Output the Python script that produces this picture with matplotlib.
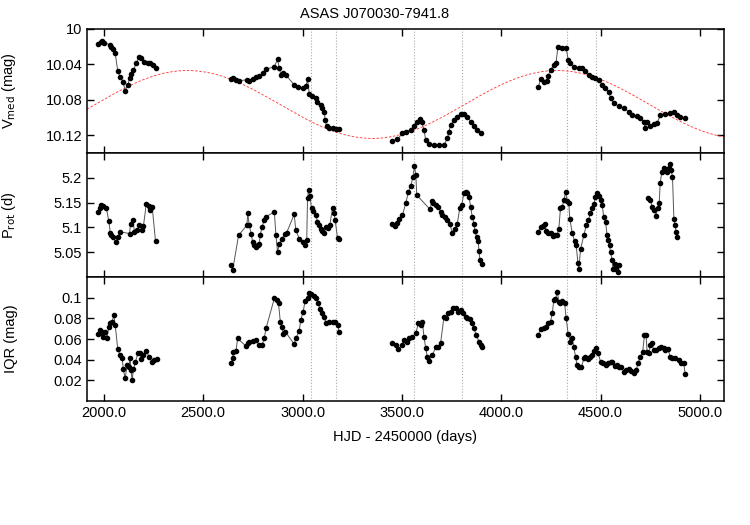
import numpy as np
import matplotlib
matplotlib.use("Agg")
import matplotlib.pyplot as plt

plt.rcParams['font.family'] = ['Liberation Sans', 'DejaVu Sans']
plt.rcParams['font.size'] = 10.5

# ---- V_med (mag) ----
v_t = [[1970, 1983, 1992, 2003, 2029, 2037, 2045, 2057, 2070, 2082, 2096, 2107, 2121, 2129,
        2137, 2149, 2163, 2176, 2188, 2204, 2221, 2233, 2246, 2263],
       [2640, 2652, 2665, 2678, 2720, 2732, 2749, 2766, 2782, 2799, 2816, 2858, 2874, 2883,
        2891, 2900, 2916, 2958, 2975, 3000, 3017, 3025, 3034, 3050, 3067, 3075, 3092, 3100,
        3109, 3114, 3121, 3134, 3151, 3168, 3184],
       [3452, 3477, 3503, 3519, 3545, 3561, 3578, 3590, 3600, 3611, 3620, 3637, 3662, 3687,
        3712, 3729, 3737, 3745, 3762, 3779, 3796, 3812, 3829, 3846, 3863, 3880, 3896],
       [4186, 4198, 4214, 4228, 4236, 4248, 4265, 4276, 4285, 4307, 4327, 4337, 4348, 4365,
        4390, 4407, 4424, 4441, 4457, 4474, 4491, 4508, 4524, 4541, 4550, 4566, 4591, 4617,
        4642, 4658, 4683, 4700, 4717, 4725, 4734, 4751, 4767, 4784, 4801, 4826, 4851, 4868,
        4885, 4901, 4923]]
v_val = [[10.017, 10.0143, 10.0132, 10.0154, 10.018, 10.020, 10.023, 10.0275, 10.048, 10.054,
          10.0595, 10.0697, 10.063, 10.0557, 10.051, 10.046, 10.039, 10.032, 10.033, 10.037,
          10.038, 10.039, 10.0407, 10.0444],
         [10.0569, 10.0557, 10.0576, 10.0584, 10.0576, 10.0588, 10.0569, 10.0546, 10.053, 10.050,
          10.0456, 10.0426, 10.0343, 10.0444, 10.052, 10.050, 10.052, 10.0633, 10.0652, 10.067,
          10.065, 10.057, 10.0735, 10.0757, 10.078, 10.082, 10.086, 10.0896, 10.0934, 10.103,
          10.110, 10.1115, 10.1122, 10.1126, 10.1134],
         [10.1262, 10.1247, 10.1179, 10.116, 10.114, 10.1096, 10.1047, 10.102, 10.1047, 10.114,
          10.1254, 10.130, 10.131, 10.1315, 10.131, 10.1235, 10.116, 10.1085, 10.103, 10.099,
          10.096, 10.096, 10.099, 10.1047, 10.1096, 10.114, 10.1179],
         [10.0659, 10.0569, 10.0595, 10.0584, 10.053, 10.0463, 10.0407, 10.038, 10.0207, 10.0218,
          10.0218, 10.035, 10.038, 10.0426, 10.0437, 10.0444, 10.048, 10.052, 10.0546, 10.0557,
          10.0576, 10.0633, 10.067, 10.0708, 10.078, 10.084, 10.087, 10.0896, 10.0934, 10.097,
          10.0983, 10.101, 10.1047, 10.112, 10.1047, 10.1096, 10.1074, 10.1066, 10.097, 10.096,
          10.0953, 10.0934, 10.097, 10.099, 10.101]]

# ---- P_rot (d) ----
p_t = [[1970, 1978, 1987, 1998, 2012, 2025, 2032, 2037, 2045, 2059, 2070, 2082, 2129, 2134,
        2146, 2154, 2166, 2179, 2191, 2199, 2213, 2225, 2233, 2243, 2260],
       [2640, 2648, 2678, 2720, 2724, 2732, 2741, 2749, 2757, 2766, 2774, 2782, 2787, 2796,
        2807, 2816, 2858, 2866, 2874, 2883, 2896, 2913, 2920, 2958, 2966, 2983, 3000, 3013,
        3021, 3025, 3030, 3037, 3045, 3054, 3067, 3075, 3084, 3092, 3100, 3109, 3117, 3129,
        3137, 3151, 3159, 3164, 3176, 3184],
       [3452, 3465, 3477, 3486, 3503, 3519, 3533, 3545, 3556, 3563, 3570, 3575, 3642, 3650,
        3659, 3670, 3684, 3695, 3704, 3717, 3729, 3740, 3754, 3767, 3779, 3791, 3801, 3812,
        3821, 3829, 3838, 3846, 3854, 3863, 3868, 3876, 3884, 3888, 3893, 3901],
       [4186, 4198, 4210, 4220, 4226, 4236, 4248, 4260, 4270, 4282, 4290, 4298, 4307, 4315,
        4324, 4332, 4340, 4345, 4357, 4369, 4377, 4386, 4391, 4399, 4416, 4428, 4438, 4449,
        4458, 4466, 4474, 4483, 4491, 4500, 4508, 4516, 4525, 4533, 4538, 4545, 4550, 4558,
        4563, 4572, 4578, 4587, 4595],
       [4738, 4750, 4761, 4771, 4778, 4788, 4795, 4800, 4808, 4817, 4825, 4833, 4842, 4850,
        4855, 4862, 4869, 4875, 4880, 4885]]
p_val = [[5.131, 5.1394, 5.1448, 5.1428, 5.1394, 5.1125, 5.0896, 5.0842, 5.0809, 5.0708, 5.0809,
          5.091, 5.0876, 5.1071, 5.1145, 5.091, 5.0943, 5.1044, 5.0943, 5.1024, 5.1462, 5.1435,
          5.1347, 5.1415, 5.0721],
         [5.0237, 5.0136, 5.0842, 5.1044, 5.128, 5.1044, 5.0876, 5.0708, 5.064, 5.0607, 5.064,
          5.0674, 5.0842, 5.1011, 5.1145, 5.1213, 5.1314, 5.0842, 5.0506, 5.0674, 5.0775, 5.0876,
          5.0896, 5.126, 5.0943, 5.0775, 5.0708, 5.0654, 5.0741, 5.1583, 5.1751, 5.1637, 5.1381,
          5.1334, 5.1246, 5.1112, 5.1044, 5.0964, 5.0923, 5.0896, 5.1011, 5.099, 5.1044, 5.1394,
          5.128, 5.1145, 5.0789, 5.0762],
         [5.1065, 5.1031, 5.1098, 5.1166, 5.1246, 5.1482, 5.1717, 5.1838, 5.202, 5.2242, 5.2054,
          5.165, 5.1361, 5.1529, 5.1482, 5.1448, 5.1414, 5.1314, 5.1246, 5.1213, 5.1145, 5.1078,
          5.0896, 5.0977, 5.1078, 5.1381, 5.1448, 5.1684, 5.1717, 5.1684, 5.1617, 5.1415, 5.1213,
          5.1078, 5.0923, 5.0809, 5.0721, 5.0519, 5.0338, 5.027],
         [5.091, 5.1011, 5.1031, 5.1078, 5.0923, 5.0896, 5.0896, 5.0829, 5.0856, 5.0856, 5.0977,
          5.1381, 5.1414, 5.1549, 5.1704, 5.1529, 5.1482, 5.1179, 5.0896, 5.0721, 5.064, 5.029,
          5.0169, 5.056, 5.0842, 5.1044, 5.1145, 5.128, 5.1381, 5.1462, 5.1616, 5.1684, 5.1637,
          5.1549, 5.1448, 5.1213, 5.1112, 5.0842, 5.0741, 5.064, 5.0506, 5.0338, 5.0156, 5.027,
          5.0169, 5.0102, 5.0237],
         [5.1583, 5.1549, 5.1414, 5.1347, 5.1233, 5.1381, 5.1482, 5.1886, 5.2121, 5.2202, 5.2155,
          5.2108, 5.2188, 5.2269, 5.2155, 5.202, 5.1179, 5.1044, 5.091, 5.0809]]

# ---- IQR (mag) ----
q_t = [[1970, 1978, 1983, 1992, 1998, 2008, 2015, 2025, 2032, 2042, 2050, 2057, 2070, 2082,
        2092, 2098, 2107, 2117, 2125, 2132, 2137, 2142, 2149, 2159, 2171, 2183, 2188, 2199,
        2213, 2229, 2243, 2254, 2266],
       [2640, 2648, 2652, 2665, 2673, 2715, 2724, 2732, 2749, 2766, 2782, 2796, 2807, 2816,
        2858, 2871, 2879, 2888, 2896, 2903, 2913, 2958, 2966, 2983, 2991, 3003, 3013, 3025,
        3030, 3042, 3058, 3070, 3080, 3087, 3097, 3109, 3117, 3134, 3151, 3164, 3176, 3184],
       [3452, 3469, 3482, 3499, 3511, 3528, 3536, 3553, 3570, 3583, 3595, 3603, 3611, 3620,
        3628, 3637, 3653, 3670, 3684, 3695, 3712, 3720, 3734, 3745, 3757, 3771, 3784, 3796,
        3807, 3821, 3829, 3841, 3851, 3863, 3874, 3888, 3896, 3905],
       [4186, 4198, 4214, 4226, 4236, 4248, 4257, 4265, 4273, 4282, 4290, 4298, 4307, 4319,
        4327, 4337, 4348, 4357, 4365, 4374, 4382, 4391, 4404, 4416, 4424, 4436, 4449, 4458,
        4469, 4479, 4488, 4500, 4511, 4525, 4536, 4550, 4558, 4572, 4583, 4595, 4605, 4617,
        4629, 4642, 4654, 4667, 4679, 4689, 4700, 4712, 4721, 4729, 4734, 4742, 4751, 4759,
        4767, 4779, 4792, 4805, 4817, 4825, 4839, 4851, 4859, 4876, 4893, 4906, 4918, 4926]]
q_val = [[0.0645, 0.0687, 0.0655, 0.0671, 0.0623, 0.0671, 0.0606, 0.0719, 0.0752, 0.0768, 0.0832,
          0.0735, 0.050, 0.0445, 0.0413, 0.0306, 0.0219, 0.0348, 0.0332, 0.0413, 0.030, 0.0203,
          0.0306, 0.0381, 0.0461, 0.0461, 0.0403, 0.0445, 0.0484, 0.0423, 0.0381, 0.0397, 0.0406],
         [0.0364, 0.0413, 0.0477, 0.0484, 0.0606, 0.0532, 0.0558, 0.0574, 0.0584, 0.059, 0.0542,
          0.0542, 0.0606, 0.0703, 0.0994, 0.0977, 0.0945, 0.0768, 0.0719, 0.0645, 0.0671, 0.0552,
          0.0606, 0.0677, 0.0784, 0.0865, 0.0971, 0.0994, 0.1042, 0.1035, 0.1016, 0.0994, 0.0945,
          0.0887, 0.0848, 0.0816, 0.0758, 0.0768, 0.0768, 0.0768, 0.0735, 0.0671],
         [0.0565, 0.0542, 0.050, 0.0542, 0.059, 0.0574, 0.0606, 0.0623, 0.0655, 0.0752, 0.0735,
          0.0768, 0.0623, 0.051, 0.0429, 0.039, 0.0445, 0.0519, 0.0519, 0.0565, 0.0816, 0.080,
          0.0848, 0.0865, 0.0897, 0.0897, 0.0865, 0.0881, 0.0848, 0.0816, 0.080, 0.079, 0.0752,
          0.0703, 0.0639, 0.0574, 0.0542, 0.0519],
         [0.0639, 0.0694, 0.0703, 0.0719, 0.0752, 0.0768, 0.0855, 0.0977, 0.0984, 0.1058, 0.0961,
          0.0945, 0.0971, 0.0945, 0.080, 0.0648, 0.0574, 0.0606, 0.0526, 0.0429, 0.0348, 0.0332,
          0.0332, 0.0413, 0.0429, 0.0403, 0.0423, 0.0445, 0.0487, 0.051, 0.0461, 0.0381, 0.0364,
          0.0348, 0.0364, 0.0381, 0.0381, 0.0339, 0.0348, 0.0332, 0.0332, 0.0284, 0.030, 0.0306,
          0.029, 0.0274, 0.030, 0.0364, 0.0429, 0.0477, 0.0639, 0.0639, 0.0477, 0.0461, 0.0542,
          0.0565, 0.0494, 0.0494, 0.051, 0.0519, 0.051, 0.0494, 0.050, 0.0429, 0.0413, 0.0413,
          0.0397, 0.0364, 0.0371, 0.0261]]

# sinusoidal cycle fit to V_med
cyc_mean = 10.0853
cyc_amp = 0.0383
cyc_period = 1860.0
cyc_tmax = 2421.0

vlines = [3040, 3166, 3561, 3804, 4332, 4479]

fig, axes = plt.subplots(3, 1, sharex=True, figsize=(7.5, 5.25), dpi=100)
fig.subplots_adjust(left=0.116, right=0.965, top=0.945, bottom=0.236, hspace=0)

panels = [(v_t, v_val), (p_t, p_val), (q_t, q_val)]
for ax, (ts, vs) in zip(axes, panels):
    for t, v in zip(ts, vs):
        ax.plot(t, v, '-', color='#555555', lw=0.7, zorder=2)
        ax.plot(t, v, 'o', color='black', ms=3.0, zorder=3)
    for x in vlines:
        ax.axvline(x, color='#aaaaaa', ls=':', lw=0.8, zorder=1)
    ax.tick_params(direction='in', top=True, right=True, length=5, width=1)
    for s in ax.spines.values():
        s.set_linewidth(1.1)
    ax.yaxis.set_label_coords(-0.108, 0.5)

tt = np.linspace(1915, 5120, 400)
axes[0].plot(tt, cyc_mean - cyc_amp * np.cos(2 * np.pi * (tt - cyc_tmax) / cyc_period),
             color='#ff3030', ls=(0, (3, 2)), lw=0.6, zorder=2)

axes[0].set_ylim(10.14, 10.0)
axes[0].set_yticks([10.0, 10.04, 10.08, 10.12])
axes[0].set_yticklabels(['10', '10.04', '10.08', '10.12'])
axes[0].set_ylabel(r'V$_{\rm med}$ (mag)')
fig.text(0.5, 1 - 14 / 525, 'ASAS J070030-7941.8', ha='center', va='center')

axes[1].set_ylim(5.0, 5.25)
axes[1].set_yticks([5.05, 5.1, 5.15, 5.2])
axes[1].set_yticklabels(['5.05', '5.1', '5.15', '5.2'])
axes[1].set_ylabel(r'P$_{\rm rot}$ (d)')

axes[2].set_ylim(0.0, 0.12)
axes[2].set_yticks([0.02, 0.04, 0.06, 0.08, 0.1])
axes[2].set_yticklabels(['0.02', '0.04', '0.06', '0.08', '0.1'])
axes[2].set_ylabel('IQR (mag)')

axes[2].set_xlim(1915, 5120)
axes[2].set_xticks([2000, 2500, 3000, 3500, 4000, 4500, 5000])
axes[2].set_xticklabels(['2000.0', '2500.0', '3000.0', '3500.0', '4000.0', '4500.0', '5000.0'])
axes[2].set_xlabel('HJD - 2450000 (days)', labelpad=7)

fig.savefig('out.png', dpi=100)
